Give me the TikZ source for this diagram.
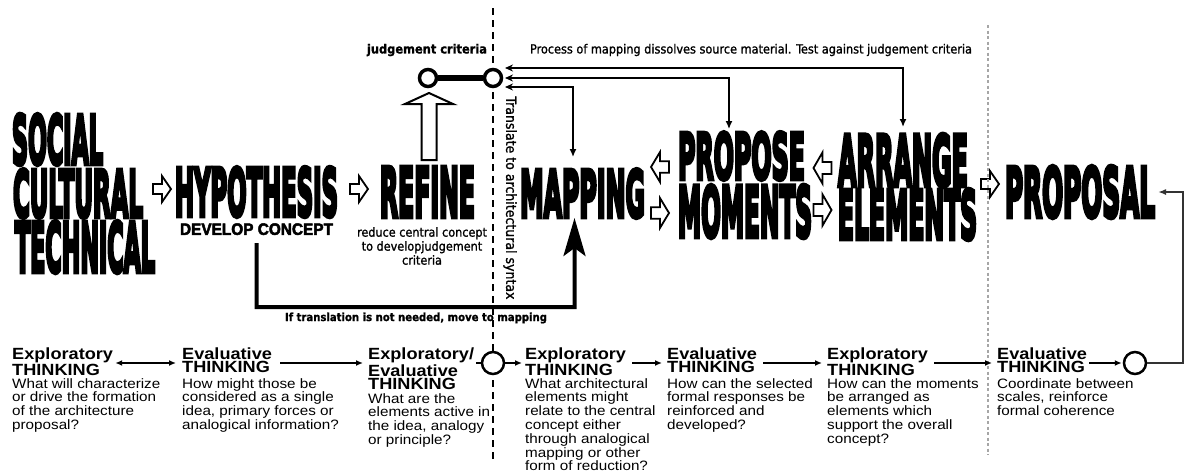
\documentclass[tikz,border=0pt]{standalone}
\usepackage{fontspec}
\usepackage{graphicx}
\usetikzlibrary{arrows.meta}
\setmainfont{Liberation Sans}
\IfFontExistsTF{DejaVu Sans Condensed Bold}{%
  \newfontfamily\impactfont{DejaVu Sans Condensed Bold}[FakeBold=7]
  \newfontfamily\condfont{DejaVu Sans Condensed}[FakeBold=1.2]
  \newfontfamily\condbold{DejaVu Sans Condensed Bold}[FakeBold=1]
}{%
  \newfontfamily\impactfont{DejaVu Sans Bold}[FakeBold=7]
  \newfontfamily\condfont{DejaVu Sans}[FakeStretch=0.85,FakeBold=1.2]
  \newfontfamily\condbold{DejaVu Sans Bold}[FakeStretch=0.85,FakeBold=1]
}
\newfontfamily\blackfont{Liberation Sans Bold}[FakeBold=3]
\newfontfamily\bodyfont{Liberation Sans}[FakeStretch=1.12]
\newfontfamily\headfont{Liberation Sans Bold}[FakeStretch=1.12]
\newcommand\bw[3]{\resizebox{#1pt}{#2pt}{\impactfont #3}}
\tikzset{
  word/.style={anchor=south west, inner sep=0pt, outer sep=0pt},
  holl/.style={draw=black, line width=1.8pt, fill=white, line join=miter},
  hollow right/.pic={\draw[holl] (-9,-5) -- (0,-5) -- (0,-13) -- (9,0) -- (0,13) -- (0,5) -- (-9,5) -- cycle;},
  hollow left/.pic={\draw[holl] (9,-5) -- (0,-5) -- (0,-13) -- (-9,0) -- (0,13) -- (0,5) -- (9,5) -- cycle;},
  head/.style={anchor=north west, inner sep=0pt, align=left, font=\headfont\fontsize{16.2}{13}\selectfont},
  body/.style={anchor=north west, inner sep=0pt, align=left, font=\bodyfont\fontsize{13.6}{13.8}\selectfont},
  lbl/.style={inner sep=0pt},
  ring/.style={circle, draw=black, fill=white, inner sep=0pt},
  smallarr/.style={-{Latex[length=7pt,width=6pt]}, line width=1.5pt},
  dblarr/.style={{Latex[length=7pt,width=6pt]}-{Latex[length=7pt,width=6pt]}, line width=1.5pt},
  toparr/.style={{Stealth[length=8pt,width=7pt]}-{Latex[length=8pt,width=7pt]}, line width=1.6pt},
  bypass/.style={line width=4pt, -{Stealth[length=38pt,width=22pt,inset=8pt]}},
}
\begin{document}
\begin{tikzpicture}[x=1pt,y=-1pt]
\useasboundingbox (0,0) rectangle (1187,474);

% big words
\node[word] (social) at (12,165) {\bw{91}{50}{SOCIAL}};
\node[word] (cultural) at (13,218) {\bw{130}{48}{CULTURAL}};
\node[word] (technical) at (15,273) {\bw{140}{51}{TECHNICAL}};
\node[word] (hypo) at (175,217) {\bw{163}{49}{HYPOTHESIS}};
\node[word] (dev) at (180,235) {\resizebox{153pt}{11.5pt}{\blackfont DEVELOP CONCEPT}};
\node[word] (refine) at (380,217) {\bw{95}{50}{REFINE}};
\node[word] (mapping) at (520,218) {\bw{125}{48}{MAPPING}};
\node[word] (propose) at (678,180) {\bw{127}{47}{PROPOSE}};
\node[word] (moments) at (678,238) {\bw{134}{52}{MOMENTS}};
\node[word] (arrange) at (838,187) {\bw{130}{52}{ARRANGE}};
\node[word] (elements) at (838,240) {\bw{139}{50}{ELEMENTS}};
\node[word] (proposal) at (1005,218) {\bw{150}{51}{PROPOSAL}};

% hollow arrows between words
\pic at (162,189) {hollow right};
\pic at (359,189) {hollow right};
\pic[yscale=1.15] at (660,167) {hollow left};
\pic[yscale=1.15] at (660,213) {hollow right};
\pic[yscale=1.2] at (822.5,168) {hollow left};
\pic[yscale=1.2] at (822.5,210) {hollow right};
\pic at (990,184) {hollow right};

% small labels
\node[lbl] (jctext) at (427,50) {\resizebox{120pt}{!}{\condbold judgement criteria}};
\node[lbl] (proc) at (751,50) {\resizebox{442pt}{!}{\condfont Process of mapping dissolves source material. Test against judgement criteria}};
\node[lbl, rotate=-90] (transl) at (510,198) {\resizebox{203pt}{!}{\condfont Translate to architectural syntax}};
\node[lbl, align=center, font=\condfont\fontsize{12.5}{14}\selectfont] (reduce) at (422,246) {reduce central concept\\to developjudgement\\criteria};
\node[lbl] (iftr) at (416,318) {\resizebox{262pt}{!}{\condbold If translation is not needed, move to mapping}};

% dividers
\coordinate (dtop) at (493,8);
\coordinate (dbot) at (493,463);
\draw[line width=2.8pt, dash pattern=on 7pt off 5pt] (dtop) -- (dbot);
\coordinate (gtop) at (988,25);
\coordinate (gbot) at (988,455);
\draw[gray!70, line width=1.6pt, dash pattern=on 3pt off 2.5pt] (gtop) -- (gbot);

% big hollow up arrow to judgement criteria
\draw[holl, line width=2pt] (421.5,160) -- (421.5,104) -- (405,104) -- (429,93) -- (453,104) -- (436.5,104) -- (436.5,160) -- cycle;

% judgement criteria circles
\node[ring, line width=3.5pt, minimum size=17pt] (jl) at (428,78) {};
\node[ring, line width=3.5pt, minimum size=17pt] (jr) at (493,78) {};
\draw[line width=6pt] (jl) -- (jr);

% feedback arrows from the right
\coordinate (t1) at (505,68);
\coordinate (t2) at (505,78);
\coordinate (t3) at (505,87);
\draw[toparr, shorten >=7pt] (t1) -| (arrange.north);
\draw[toparr, shorten >=3pt] (t2) -| ([xshift=-12.5pt]propose.north);
\draw[toparr, shorten >=12pt] (t3) -| ([xshift=-9.5pt]mapping.north);

% bypass from hypothesis to mapping
\coordinate (byr) at (574.5,307);
\draw[bypass, line join=miter] ([yshift=-8pt]dev.south) |- (byr) -- ([xshift=-8pt]mapping.south);

% bottom row
\node[head] (h1) at (12,348) {Exploratory\\THINKING};
\node[body] (b1) at (12,378) {What will characterize\\or drive the formation\\of the architecture\\proposal?};
\node[head] (h2) at (182,348) {Evaluative\\THINKING};
\node[body] (b2) at (182,378) {How might those be\\considered as a single\\idea, primary forces or\\analogical information?};
\node[head] (h3) at (368,348) {Exploratory/\\Evaluative\\THINKING};
\node[body] (b3) at (368,393) {What are the\\elements active in\\the idea, analogy\\or principle?};
\node[head] (h4) at (525,348) {Exploratory\\THINKING};
\node[body] (b4) at (525,378) {What architectural\\elements might\\relate to the central\\concept either\\through analogical\\mapping or other\\form of reduction?};
\node[head] (h5) at (667,348) {Evaluative\\THINKING};
\node[body] (b5) at (667,378) {How can the selected\\formal responses be\\reinforced and\\developed?};
\node[head] (h6) at (827,348) {Exploratory\\THINKING};
\node[body] (b6) at (827,378) {How can the moments\\be arranged as\\elements which\\support the overall\\concept?};
\node[head] (h7) at (997,348) {Evaluative\\THINKING};
\node[body] (b7) at (997,378) {Coordinate between\\scales, reinforce\\formal coherence};

\node[ring, line width=2.5pt, minimum size=22pt] (bc) at (493,363) {};
\node[ring, line width=2.5pt, minimum size=22pt] (endc) at (1135,363) {};
\coordinate (rc) at (1183,363);

\draw[dblarr, shorten <=2pt, shorten >=6pt] (h1.east |- bc) -- (h2.west |- bc);
\draw[smallarr, shorten <=8pt, shorten >=5pt] (h2.east |- bc) -- (h3.west |- bc);
\draw[line width=1.5pt, shorten <=2pt] (h3.east |- bc) -- (bc);
\draw[smallarr, shorten >=3pt] (bc) -- (h4.west |- bc);
\draw[smallarr, shorten <=6pt, shorten >=5pt] (h4.east |- bc) -- (h5.west |- bc);
\draw[smallarr, shorten <=6pt, shorten >=5pt] (h5.east |- bc) -- (h6.west |- bc);
\draw[smallarr, shorten <=6pt, shorten >=5pt] (h6.east |- bc) -- (h7.west |- bc);
\draw[smallarr, shorten <=2pt, shorten >=1pt] (h7.east |- bc) -- (endc);
\draw[line width=2pt, black!80, -{Latex[length=8pt,width=6pt]}, shorten >=3pt] (endc) -- (rc) |- (proposal.east);
\end{tikzpicture}
\end{document}
